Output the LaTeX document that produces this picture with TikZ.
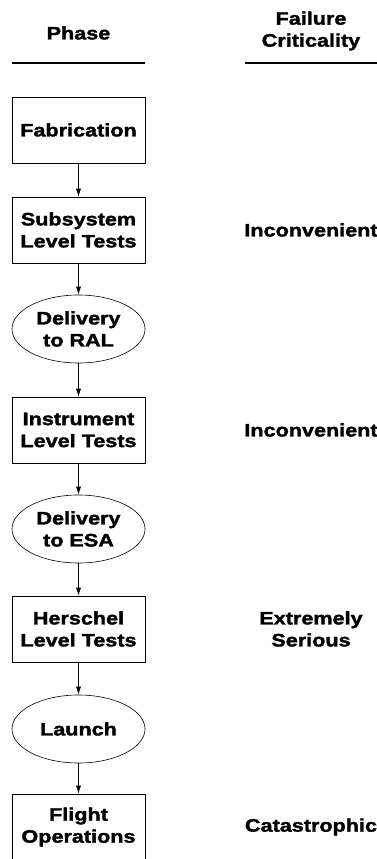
\documentclass[tikz,border=0pt]{standalone}
\usepackage{fontspec}
\setmainfont{Liberation Sans}[FakeStretch=1.2, FakeBold=1.8]
\usepackage{tikz}
\usetikzlibrary{shapes.geometric, arrows.meta}

\tikzset{
  phasebox/.style={draw, line width=0.6, minimum width=133, minimum height=66, inner sep=0, align=center, font=\fontsize{18}{22}\selectfont\bfseries},
  phaseoval/.style={ellipse, draw, line width=0.6, minimum width=133, minimum height=68, inner sep=0, align=center, font=\fontsize{18}{22}\selectfont\bfseries},
  critlabel/.style={inner sep=0, align=center, font=\fontsize{18}{22}\selectfont\bfseries},
  flowarrow/.style={line width=0.6, -{Latex[length=8, width=5]}}
}

\begin{document}
\begin{tikzpicture}[x=1pt, y=-1pt]
\useasboundingbox (0, 0) rectangle (377, 859);
%Headings
\draw (78.5, 33) node (phasehead) [critlabel] {Phase};
\draw (311, 31) node (crithead) [critlabel] {Failure\\Criticality};
\draw [line width=2.5] (12, 63) -- (145, 63);
\draw [line width=2.5] (245, 63) -- (377, 63);
%Phases
\draw (78.5, 130) node (fab) [phasebox] {Fabrication};
\draw (78.5, 230) node (subsys) [phasebox] {Subsystem\\Level Tests};
\draw (78.5, 329) node (ral) [phaseoval] {Delivery\\to RAL};
\draw (78.5, 430) node (instr) [phasebox] {Instrument\\Level Tests};
\draw (78.5, 529) node (esa) [phaseoval] {Delivery\\to ESA};
\draw (78.5, 629) node (herschel) [phasebox] {Herschel\\Level Tests};
\draw (78.5, 729) node (launch) [phaseoval] {Launch};
\draw (78.5, 827) node (flight) [phasebox] {Flight\\Operations};
\draw [flowarrow] (fab) -- (subsys);
\draw [flowarrow] (subsys) -- (ral);
\draw [flowarrow] (ral) -- (instr);
\draw [flowarrow] (instr) -- (esa);
\draw [flowarrow] (esa) -- (herschel);
\draw [flowarrow] (herschel) -- (launch);
\draw [flowarrow] (launch) -- (flight);
%Criticality
\draw (311, 230) node (critsub) [critlabel] {Inconvenient};
\draw (311, 430) node (critinstr) [critlabel] {Inconvenient};
\draw (311, 629) node (critherschel) [critlabel] {Extremely\\Serious};
\draw (311, 827) node (critflight) [critlabel] {Catastrophic};
\end{tikzpicture}
\end{document}
